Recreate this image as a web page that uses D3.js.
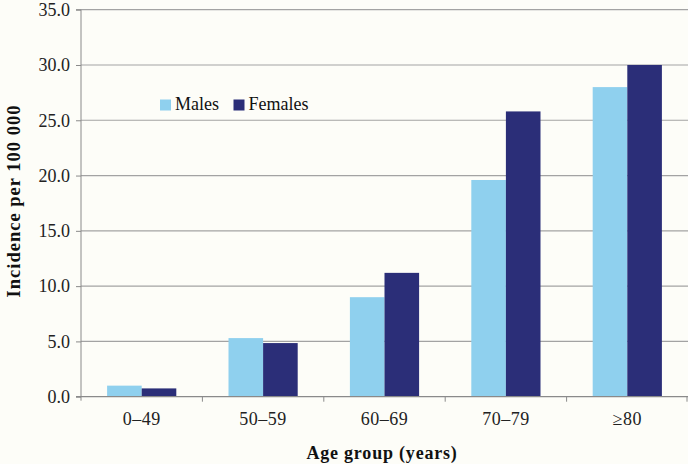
<!DOCTYPE html>
<html><head><meta charset="utf-8">
<script src="https://cdn.jsdelivr.net/npm/d3@7"></script>
<style>
body{margin:0;background:#fdfdf8;}
svg{display:block;}
</style></head><body>
<svg id="c" width="688" height="464" font-family="Liberation Serif"></svg>
<script>
const categories = ["0–49","50–59","60–69","70–79","≥80"];
const series = ["Males","Females"];
const males = [1.0, 5.3, 9.0, 19.6, 28.0];
const females = [0.75, 4.85, 11.2, 25.8, 30.0];
const yTicks = [0,5,10,15,20,25,30,35];
const colors = ["#8fd0ee","#2b2e78"];
const FONT = "Liberation Serif";

const svg = d3.select("#c");
const m = {l:81, r:0, t:9.7, b:67.3};
const W = 688, H = 464;
const x = d3.scaleBand().domain(categories).range([m.l, W-m.r]).paddingInner(0.43).paddingOuter(0.215);
const xb = d3.scaleBand().domain(categories).range([m.l, W-m.r]);
const xs = d3.scaleBand().domain(series).range([0, x.bandwidth()]);
const y = d3.scaleLinear().domain([0,35]).range([H-m.b, m.t]);

// gridlines
svg.append("g").selectAll("line").data(yTicks.filter(d=>d>0)).join("line")
  .attr("x1", m.l).attr("x2", W).attr("y1", d=>y(d)).attr("y2", d=>y(d))
  .attr("stroke", "#a3a3a3").attr("stroke-width", 1.2);

// bars
const data = categories.map((c,i)=>({c, vals:[males[i], females[i]]}));
const g = svg.append("g").selectAll("g").data(data).join("g")
  .attr("transform", d=>`translate(${x(d.c)},0)`);
g.selectAll("rect").data(d=>d.vals.map((v,j)=>({s:series[j], v, j}))).join("rect")
  .attr("x", d=>xs(d.s)).attr("width", xs.bandwidth())
  .attr("y", d=>y(d.v)).attr("height", d=>y(0)-y(d.v))
  .attr("fill", d=>colors[d.j]);

// y axis
const yAxis = d3.axisLeft(y).tickValues(yTicks).tickFormat(d3.format(".1f")).tickSize(5).tickPadding(6);
const ya = svg.append("g").attr("transform", `translate(${m.l},0)`).call(yAxis)
  .attr("font-family", FONT).attr("font-size", 18);
ya.select(".domain").attr("stroke","#8a8a8a").attr("d", `M-5,${y(35)}H0V${y(0)+4}`);
ya.selectAll(".tick line").attr("stroke","#8a8a8a");
ya.selectAll(".tick text").attr("font-size", 18).attr("font-family",FONT).attr("fill","#222");

// x axis
const xa = svg.append("g").attr("transform", `translate(0,${y(0)})`);
xa.append("line").attr("x1", m.l-5).attr("x2", W).attr("y1",0).attr("y2",0).attr("stroke","#8a8a8a").attr("stroke-width",1.2);
xa.selectAll("line.tk").data(categories.slice(1).concat(["end"])).join("line").attr("class","tk")
  .attr("x1", (d,i)=> i<4 ? xb(d) : W-1).attr("x2", (d,i)=> i<4 ? xb(d) : W-1)
  .attr("y1",0).attr("y2",5).attr("stroke","#8a8a8a");
xa.selectAll("text").data(categories).join("text")
  .attr("x", d=>xb(d)+xb.bandwidth()/2).attr("y", 28)
  .attr("text-anchor","middle").attr("font-size",18).attr("font-family",FONT).attr("fill","#222")
  .style("letter-spacing","0.5px").text(d=>d);

// axis titles
svg.append("text").attr("x", 382).attr("y", 459).attr("text-anchor","middle")
  .attr("font-family",FONT).attr("fill","#111")
  .attr("font-size",18).attr("font-weight","bold").style("letter-spacing","0.8px").text("Age group (years)");
svg.append("text").attr("transform","translate(20,201) rotate(-90)").attr("text-anchor","middle")
  .attr("font-family",FONT).attr("fill","#111")
  .attr("font-size",18.5).attr("font-weight","bold").style("letter-spacing","1px").text("Incidence per 100 000");

// legend
const lg = svg.append("g");
const lx = [160, 233.5];
series.forEach((s,i)=>{
  lg.append("rect").attr("x", lx[i]).attr("y", 99.5).attr("width", 11).attr("height", 11).attr("fill", colors[i]);
  lg.append("text").attr("x", lx[i]+15).attr("y", 110).attr("font-size",18)
    .attr("font-family",FONT).attr("fill","#111").text(s);
});
</script></body></html>
